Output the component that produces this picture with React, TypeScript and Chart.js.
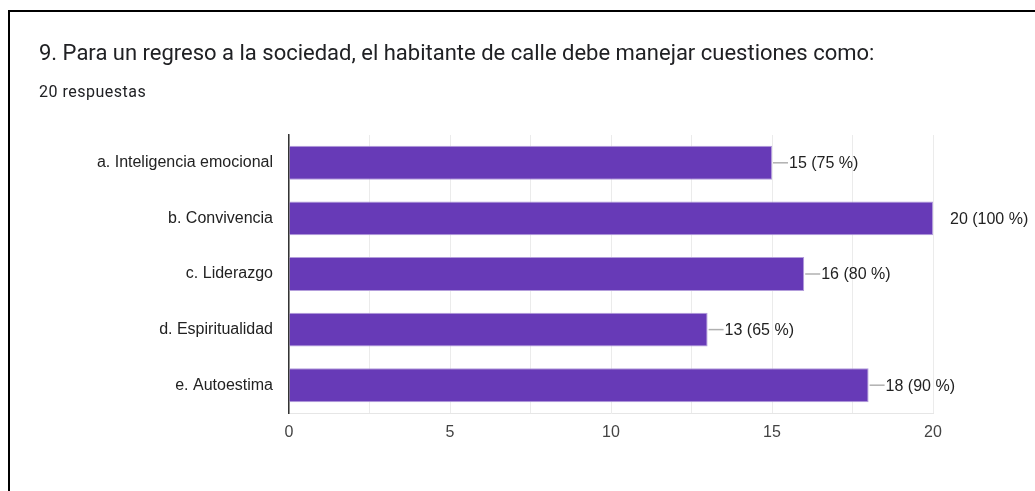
import React, { useEffect, useRef } from "react";
import { Chart, registerables } from "chart.js";

Chart.register(...registerables);

const title = "9. Para un regreso a la sociedad, el habitante de calle debe manejar cuestiones como:";
const subtitle = "20 respuestas";
const categories = [
  "a. Inteligencia emocional",
  "b. Convivencia",
  "c. Liderazgo",
  "d. Espiritualidad",
  "e. Autoestima",
];
const counts = [15, 20, 16, 13, 18];
const percents = [75, 100, 80, 65, 90];
const xTickValues = [0, 5, 10, 15, 20];

const FONT = "'Liberation Sans', Arial, sans-serif";

const valueLabels = {
  id: "valueLabels",
  afterDatasetsDraw(chart: any) {
    const { ctx, chartArea } = chart;
    const meta = chart.getDatasetMeta(0);
    meta.data.forEach((bar: any, i: number) => {
      const x = bar.x;
      const y = bar.y;
      ctx.save();
      ctx.beginPath();
      ctx.rect(chartArea.left, chartArea.top, chartArea.right - chartArea.left, chartArea.bottom - chartArea.top);
      ctx.clip();
      ctx.strokeStyle = "#b0b0b0";
      ctx.lineWidth = 1.5;
      ctx.beginPath();
      ctx.moveTo(x + 1, y);
      ctx.lineTo(x + 16, y);
      ctx.stroke();
      ctx.restore();
      ctx.save();
      ctx.font = `16px ${FONT}`;
      ctx.fillStyle = "#222222";
      ctx.textAlign = "left";
      ctx.textBaseline = "middle";
      ctx.fillText(`${counts[i]} (${percents[i]} %)`, x + 17, y + 1);
      ctx.restore();
    });
  },
};

export default function App() {
  const ref = useRef<HTMLCanvasElement>(null);
  useEffect(() => {
    if (!ref.current) return;
    const chart = new Chart(ref.current, {
      type: "bar",
      data: {
        labels: categories,
        datasets: [
          {
            data: counts,
            backgroundColor: "#673ab7",
            borderColor: "#b39ddb",
            borderWidth: 1,
            barPercentage: 0.61,
            categoryPercentage: 1,
          },
        ],
      },
      options: {
        indexAxis: "y",
        animation: false,
        responsive: false,
        maintainAspectRatio: false,
        layout: { padding: { left: 0, right: 102, top: 135, bottom: 38 } },
        plugins: { legend: { display: false }, tooltip: { enabled: false }, title: { display: false } },
        scales: {
          x: {
            min: 0,
            max: 20,
            afterFit: (s: any) => {
              s.height = 40;
            },
            ticks: {
              stepSize: 2.5,
              autoSkip: false,
              maxRotation: 0,
              padding: 10,
              color: "#444444",
              font: { family: FONT, size: 16 },
              callback: (v: any) => (xTickValues.includes(Number(v)) ? String(v) : ""),
            },
            grid: { color: "#ebebeb", lineWidth: 1, drawTicks: false },
            border: { display: true, color: "#e6e6e6", width: 1 },
          },
          y: {
            afterFit: (s: any) => {
              s.width = 289;
            },
            ticks: {
              padding: 16,
              color: "#222222",
              font: { family: FONT, size: 16 },
            },
            grid: { display: false, drawTicks: false },
            border: { display: true, color: "#333333", width: 1.5 },
          },
        },
      },
      plugins: [valueLabels],
    });
    return () => chart.destroy();
  }, []);

  return (
    <div style={{ position: "fixed", inset: 0, background: "#fff", overflow: "hidden" }}>
      <div
        style={{
          position: "absolute",
          left: 8,
          top: 10,
          width: 2000,
          height: 2000,
          borderLeft: "2px solid #000",
          borderTop: "2px solid #000",
        }}
      />
      <canvas ref={ref} width={1035} height={491} style={{ position: "absolute", left: 0, top: 0 }} />
      <div
        style={{
          position: "absolute",
          left: 39,
          top: 42,
          fontFamily: "Roboto, sans-serif",
          fontSize: 22,
          lineHeight: "22px",
          color: "#202124",
          whiteSpace: "nowrap",
        }}
      >
        {title}
      </div>
      <div
        style={{
          position: "absolute",
          left: 39,
          top: 84,
          fontFamily: "Roboto, sans-serif",
          fontSize: 16,
          lineHeight: "16px",
          letterSpacing: 0.5,
          color: "#202124",
          whiteSpace: "nowrap",
        }}
      >
        {subtitle}
      </div>
    </div>
  );
}
